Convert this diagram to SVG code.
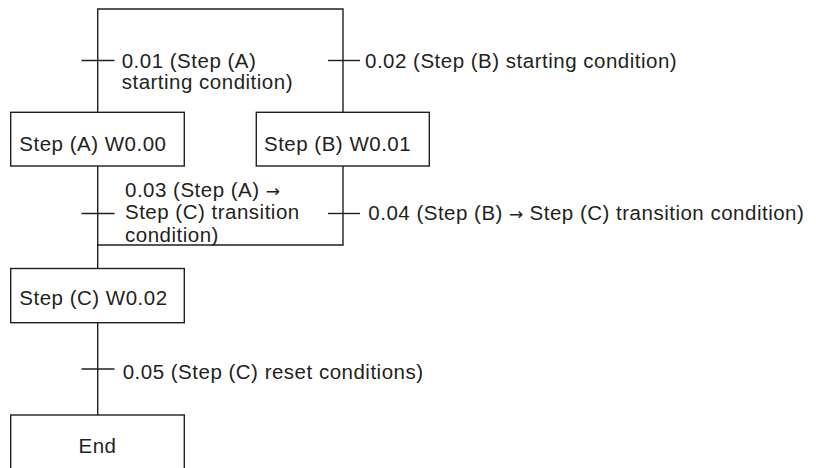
<svg xmlns="http://www.w3.org/2000/svg" width="816" height="468" viewBox="0 0 816 468">
<style>
  .box { fill: #fff; stroke: #231f20; stroke-width: 1.4; }
  .ln { fill: none; stroke: #231f20; stroke-width: 1.4; }
  text { font-family: "Liberation Sans", Arial, Helvetica, sans-serif; font-size: 20.5px; letter-spacing: 0.5px; fill: #231f20; }
  .arr { font-family: "DejaVu Sans", sans-serif; font-size: 17px; letter-spacing: 0; }
</style>
<rect width="816" height="468" fill="#fff"/>
<g id="connectors">
  <polyline class="ln" points="97.7,112 97.7,9 343,9 343,112"/>
  <line class="ln" x1="81.5" y1="60.5" x2="114.5" y2="60.5"/>
  <line class="ln" x1="328" y1="60.5" x2="360" y2="60.5"/>
  <polyline class="ln" points="97.7,166 97.7,268.5"/>
  <polyline class="ln" points="343,166 343,245 97.7,245"/>
  <line class="ln" x1="81.5" y1="213.5" x2="114.5" y2="213.5"/>
  <line class="ln" x1="328" y1="213.5" x2="360" y2="213.5"/>
  <line class="ln" x1="97.7" y1="322.7" x2="97.7" y2="415"/>
  <line class="ln" x1="81.5" y1="369" x2="114.5" y2="369"/>
  <text x="121.7" y="67.7">0.01 (Step (A)</text>
  <text x="121.7" y="89">starting condition)</text>
  <text x="365" y="68">0.02 (Step (B) starting condition)</text>
  <text x="125" y="196.7">0.03 (Step (A) <tspan class="arr">→</tspan></text>
  <text x="125" y="219.3">Step (C) transition</text>
  <text x="125" y="241.5">condition)</text>
  <text x="368.3" y="219.5">0.04 (Step (B) <tspan class="arr">→</tspan> Step (C) transition condition)</text>
  <text x="122.7" y="379">0.05 (Step (C) reset conditions)</text>
</g>
<g id="stepA">
  <rect class="box" x="10.7" y="112.3" width="173.6" height="53.7"/>
  <text x="19.3" y="150.7">Step (A) W0.00</text>
</g>
<g id="stepB">
  <rect class="box" x="256.3" y="112.3" width="173" height="53.7"/>
  <text x="264" y="150.7">Step (B) W0.01</text>
</g>
<g id="stepC">
  <rect class="box" x="10.7" y="268.5" width="173.6" height="54.2"/>
  <text x="19.3" y="305">Step (C) W0.02</text>
</g>
<g id="end">
  <rect class="box" x="10.7" y="415" width="173.6" height="70"/>
  <text x="97.5" y="452.7" text-anchor="middle">End</text>
</g>
</svg>
